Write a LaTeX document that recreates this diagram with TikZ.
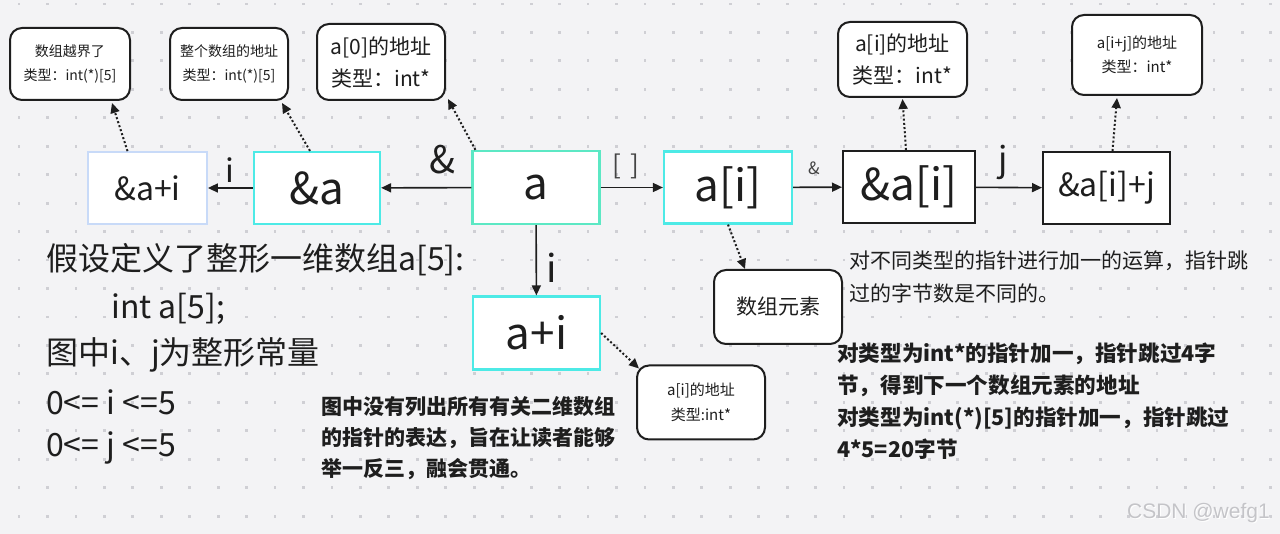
\documentclass[tikz,border=0pt]{standalone}
\usepackage{fontspec}
\setmainfont{Noto Sans CJK SC}
\newfontfamily\wmfont{Liberation Sans}
\usetikzlibrary{arrows.meta,calc}
\newcommand\fsz[2]{\fontsize{#1}{#2}\selectfont}

\definecolor{bg}{HTML}{F3F3F5}
\definecolor{griddot}{HTML}{CFCFD4}
\definecolor{ink}{HTML}{1E1E1E}
\definecolor{cyanedge}{HTML}{4DEAE6}
\definecolor{mintedge}{HTML}{5CE8C4}
\definecolor{paleedge}{HTML}{C8DAF8}
\definecolor{softink}{HTML}{444444}
\definecolor{wmgray}{HTML}{C4C4C8}

\begin{document}
\begin{tikzpicture}[x=1pt,y=-1pt,
  every node/.style={text=ink, inner sep=0pt},
  mainbox/.style={draw=ink, fill=white, line width=2pt},
  cyanbox/.style={draw=cyanedge, fill=white, line width=2.2pt},
  mintbox/.style={draw=mintedge, fill=white, line width=2.2pt},
  palebox/.style={draw=paleedge, fill=white, line width=1.8pt},
  notebox/.style={draw=ink, fill=white, line width=2pt, rounded corners=12pt, align=center},
  solidarrow/.style={draw=ink, line width=1.6pt, -{Triangle[length=10pt,width=9pt]}},
  hintarrow/.style={draw=ink, line width=2pt, dash pattern=on 2pt off 2.2pt, -{Triangle[length=10pt,width=9pt]}},
  oplabel/.style={text=ink},
  plaintext/.style={anchor=west, align=left}
]
% canvas and dotted grid
\fill[bg] (0,0) rectangle (1280,534);
\useasboundingbox (0,0) rectangle (1280,534);
\foreach \i in {0,...,44}
  \foreach \j in {0,...,18}
    \fill[griddot] ({19+28.45*\i-1.4},{4+28.45*\j-1.4}) rectangle ++(2.8,2.8);

% main row of expressions
\node[palebox, minimum width=119pt, minimum height=72pt, font=\fsz{32}{32}] (api) at (147.5,188) {\&a+i};
\node[cyanbox, minimum width=126pt, minimum height=72pt, font=\fsz{44}{44}] (aa) at (317,188) {\&a};
\node[mintbox, minimum width=127pt, minimum height=73pt, font=\fsz{44}{44}] (a) at (536,187.5) {a};
\node[cyanbox, minimum width=128pt, minimum height=72pt, font=\fsz{44}{44}] (ai) at (728,187.5) {a[i]};
\node[mainbox, minimum width=132pt, minimum height=72pt, font=\fsz{44}{44}] (aai) at (909,187) {\&a[i]};
\node[mainbox, minimum width=127pt, minimum height=72pt, font=\fsz{32}{32}] (aaij) at (1106.5,188) {\&a[i]+j};
\node[cyanbox, minimum width=127pt, minimum height=73pt, font=\fsz{44}{44}] (aplus) at (536.5,333) {a+i};

% notes with types
\node[notebox, minimum width=120pt, minimum height=72pt, font=\fsz{14}{24}] (n1) at (70,64) {数组越界了\\类型：int(*)[5]};
\node[notebox, minimum width=118pt, minimum height=72pt, font=\fsz{14}{24}] (n2) at (229,64) {整个数组的地址\\类型：int(*)[5]};
\node[notebox, minimum width=128pt, minimum height=76pt, font=\fsz{21}{32}] (n3) at (381,62) {a[0]的地址\\类型：int*};
\node[notebox, minimum width=129pt, minimum height=75pt, font=\fsz{21}{32}] (n4) at (902.5,59.5) {a[i]的地址\\类型：int*};
\node[notebox, minimum width=130pt, minimum height=80pt, font=\fsz{15}{24}] (n5) at (1137,55) {a[i+j]的地址\\类型：int*};
\node[notebox, minimum width=128pt, minimum height=74pt, font=\fsz{15}{25}] (n6) at (701,402.5) {a[i]的地址\\类型:int*};
\node[notebox, minimum width=128pt, minimum height=74pt, font=\fsz{21}{21}] (n7) at (778,307) {数组元素};

% operator arrows
\draw[solidarrow] (a) -- (aa);
\draw[solidarrow] (aa) -- (api);
\draw[solidarrow] (a) -- (ai);
\draw[solidarrow] (ai) -- (aai);
\draw[solidarrow] (aai) -- (aaij);
\draw[solidarrow] (a) -- (aplus);

\node[oplabel, font=\fsz{38}{38}] (lamp) at (442,160) {\&};
\node[oplabel, font=\fsz{32}{32}] (li) at (230,170) {i};
\node[text=softink, font=\fsz{26}{26}] (lbr) at (626,166) {[\,\,]};
\node[text=softink, font=\fsz{17}{17}] (lamp2) at (814,168) {\&};
\node[oplabel, font=\fsz{34}{34}] (lj) at (1003,162) {j};
\node[oplabel, font=\fsz{38}{38}] (li2) at (552,268) {i};

% dotted hints to the notes
\draw[hintarrow] ([xshift=-20pt]api.north) -- ([xshift=42pt,yshift=-2pt]n1.south);
\draw[hintarrow] ([xshift=-7pt]aa.north) -- ([xshift=53pt,yshift=-2pt]n2.south);
\draw[hintarrow] ([xshift=4pt]a.north west) -- ([xshift=2pt,yshift=2pt]n3.south east);
\draw[hintarrow] ([xshift=-3pt]aai.north) -- ([yshift=-1pt]n4.south);
\draw[hintarrow] ([xshift=6pt]aaij.north) -- ([xshift=-20pt,yshift=-2pt]n5.south);
\draw[hintarrow] (ai.south) -- ([xshift=-33pt]n7.north);
\draw[hintarrow] (aplus.east) -- ([xshift=3pt,yshift=-4pt]n6.north west);

% explanatory text
\node[plaintext, font=\fsz{32}{32}] (t1) at (46,260) {假设定义了整形一维数组a[5]:};
\node[plaintext, font=\fsz{32}{32}] (t2) at (111,309) {int a[5];};
\node[plaintext, font=\fsz{32}{32}] (t3) at (46,355) {图中i、j为整形常量};
\node[plaintext, font=\fsz{32}{32}] (t4) at (46,402) {0<= i <=5};
\node[plaintext, font=\fsz{32}{32}] (t5) at (46,448) {0<= j <=5};

\node[anchor=north west, align=left, font=\bfseries\fsz{21}{31}] (t6) at (321,396)
  {图中没有列出所有有关二维数组\\的指针的表达，旨在让读者能够\\举一反三，融会贯通。};
\node[anchor=north west, align=left, font=\fsz{21}{33}] (t7) at (849,251)
  {对不同类型的指针进行加一的运算，指针跳\\过的字节数是不同的。};
\node[anchor=north west, align=left, font=\bfseries\fsz{21.6}{32}] (t8) at (837,343)
  {对类型为int*的指针加一，指针跳过4字\\节，得到下一个数组元素的地址\\对类型为int(*)[5]的指针加一，指针跳过\\4*5=20字节};

% watermark
\node[anchor=east, text=white, font=\wmfont\fsz{21}{21}] (wm0) at (1271,514) {CSDN @wefg1};
\node[anchor=east, text=wmgray, font=\wmfont\fsz{21}{21}] (wm) at (1270,513) {CSDN @wefg1};
\end{tikzpicture}
\end{document}
